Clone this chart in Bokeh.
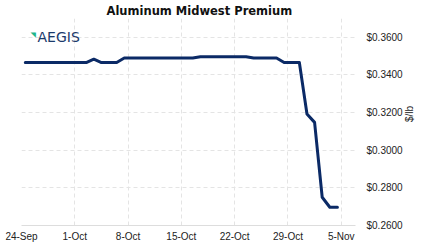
import math
import pandas as pd
from bokeh.plotting import figure
from bokeh.models import FixedTicker, NumeralTickFormatter, Label, Range1d
from bokeh.embed import file_html
from bokeh.resources import INLINE

# ---- data ----
dates = [
    "2018-09-24", "2018-09-25", "2018-09-26", "2018-09-27", "2018-09-28", "2018-09-29", "2018-09-30",
    "2018-10-01", "2018-10-02", "2018-10-03", "2018-10-04", "2018-10-05", "2018-10-06", "2018-10-07",
    "2018-10-08", "2018-10-09", "2018-10-10", "2018-10-11", "2018-10-12", "2018-10-13", "2018-10-14",
    "2018-10-15", "2018-10-16", "2018-10-17", "2018-10-18", "2018-10-19", "2018-10-20", "2018-10-21",
    "2018-10-22", "2018-10-23", "2018-10-24", "2018-10-25", "2018-10-26", "2018-10-27", "2018-10-28",
    "2018-10-29", "2018-10-30", "2018-10-31", "2018-11-01", "2018-11-02", "2018-11-03", "2018-11-04",
]
values = [
    0.3466, 0.3466, 0.3466, 0.3466, 0.3466, 0.3466, 0.3466,
    0.3466, 0.3466, 0.3484, 0.3466, 0.3466, 0.3466, 0.3490,
    0.3490, 0.3490, 0.3490, 0.3490, 0.3490, 0.3490, 0.3490,
    0.3490, 0.3490, 0.3497, 0.3497, 0.3497, 0.3497, 0.3497,
    0.3497, 0.3497, 0.3490, 0.3490, 0.3490, 0.3490, 0.3466,
    0.3466, 0.3466, 0.3193, 0.3148, 0.2750, 0.2697, 0.2697,
]
x_tick_dates = ["2018-09-24", "2018-10-01", "2018-10-08", "2018-10-15",
                "2018-10-22", "2018-10-29", "2018-11-05"]
x_tick_labels = ["24-Sep", "1-Oct", "8-Oct", "15-Oct", "22-Oct", "29-Oct", "5-Nov"]
y_ticks = [0.26, 0.28, 0.30, 0.32, 0.34, 0.36]

title_text = "Aluminum Midwest Premium"
y_label = "$/lb"
logo_text = "AEGIS"

# ---- positions ----
xs = pd.to_datetime(dates) + pd.Timedelta(hours=12)
tick_ms = [int(pd.Timestamp(d).value // 10**6) for d in x_tick_dates]
x_start = pd.Timestamp(x_tick_dates[0])
x_end = x_start + pd.Timedelta(hours=int(43.9 * 24))

FW, FH = 334, 207
p = figure(
    x_axis_type="datetime", y_axis_location="right",
    frame_width=FW, frame_height=FH,
    min_border_left=21, min_border_right=68, min_border_top=18, min_border_bottom=26,
    output_backend="svg", toolbar_location=None,
    x_range=Range1d(x_start, x_end), y_range=Range1d(0.26, 0.37),
    background_fill_color="white", border_fill_color="white",
)
p.outline_line_color = None

p.title.text = title_text
p.title.text_font = "DejaVu Sans"
p.title.text_font_size = "11.5px"
p.title.text_font_style = "bold"
p.title.text_color = "#111111"
p.title.align = "left"
p.title.offset = 85
p.title.standoff = 2

p.line(xs, values, line_color="#0b2a66", line_width=3, line_join="round", line_cap="round")

# axes
xa = p.xaxis[0]
xa.ticker = FixedTicker(ticks=tick_ms)
xa.major_label_overrides = {t: l for t, l in zip(tick_ms, x_tick_labels)}
xa.axis_line_color = "#dddddd"
xa.major_tick_out = 0
xa.major_tick_in = 0
xa.minor_tick_out = 0
xa.minor_tick_in = 0
xa.major_tick_line_color = None
xa.minor_tick_line_color = None
xa.major_label_text_font = "Liberation Sans"
xa.major_label_text_font_size = "10px"
xa.major_label_text_color = "#222222"
xa.major_label_standoff = 5

ya = p.yaxis[0]
ya.ticker = FixedTicker(ticks=y_ticks)
ya.formatter = NumeralTickFormatter(format="$0.0000")
ya.axis_line_color = None
ya.major_tick_out = 0
ya.major_tick_in = 0
ya.minor_tick_out = 0
ya.minor_tick_in = 0
ya.major_tick_line_color = None
ya.minor_tick_line_color = None
ya.major_label_text_font = "Liberation Sans"
ya.major_label_text_font_size = "10px"
ya.major_label_text_color = "#222222"
ya.major_label_standoff = 11
ya.axis_label = y_label
ya.axis_label_orientation = math.pi / 2
ya.axis_label_standoff = 4
ya.axis_label_text_font = "Liberation Sans"
ya.axis_label_text_font_size = "10px"
ya.axis_label_text_font_style = "normal"
ya.axis_label_text_color = "#222222"

for g in (p.xgrid[0], p.ygrid[0]):
    g.grid_line_color = "#e4e4e4"
    g.grid_line_dash = "4 3"
    g.grid_line_width = 1
p.xgrid[0].ticker = FixedTicker(ticks=tick_ms)
p.ygrid[0].ticker = FixedTicker(ticks=y_ticks)

# logo
p.add_layout(Label(x=9, y=FH - 12, x_units="screen", y_units="screen", text="\u25e5",
                   text_baseline="top",
                   text_color="#1fb58a", text_font="DejaVu Sans", text_font_size="7px"))
p.add_layout(Label(x=16, y=FH - 18, x_units="screen", y_units="screen", text=logo_text,
                   text_baseline="alphabetic",
                   text_color="#1b3a6b", text_font="DejaVu Sans", text_font_size="14px"))

open("out.html", "w").write(file_html(p, INLINE))
